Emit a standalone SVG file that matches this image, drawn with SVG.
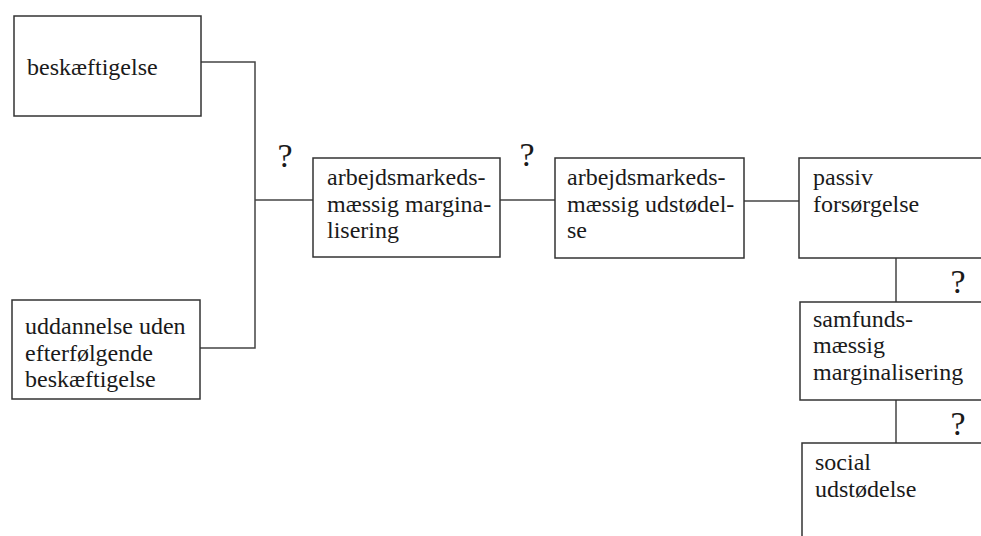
<svg xmlns="http://www.w3.org/2000/svg" width="981" height="536" viewBox="0 0 981 536">
<style>
.box{fill:#fff;stroke:#333;stroke-width:1.5}
.ln{fill:none;stroke:#444;stroke-width:1.5}
text{font-size:24px;fill:#1a1a1a}
.q{font-size:34px}
</style>
<rect width="981" height="536" fill="#fff"/>
<g font-family="Liberation Serif, Tinos, DejaVu Serif, serif">
<g id="connectors">
<polyline class="ln" points="201,62 255,62 255,348 200,348"/>
<line class="ln" x1="255" y1="200" x2="313" y2="200"/>
<line class="ln" x1="500" y1="200" x2="555" y2="200"/>
<line class="ln" x1="744" y1="201" x2="799" y2="201"/>
<line class="ln" x1="896" y1="258" x2="896" y2="302"/>
<line class="ln" x1="896" y1="400" x2="896" y2="443"/>
<text class="q" x="285" y="167" text-anchor="middle">?</text>
<text class="q" x="527" y="166" text-anchor="middle">?</text>
<text class="q" x="958" y="293" text-anchor="middle">?</text>
<text class="q" x="958" y="435" text-anchor="middle">?</text>
</g>
<g id="n1"><rect class="box" x="14" y="16" width="187" height="100"/><text x="27" y="75">beskæftigelse</text></g>
<g id="n2"><rect class="box" x="12" y="300" width="188" height="99"/><text x="25" y="334">uddannelse uden</text><text x="25" y="361">efterfølgende</text><text x="25" y="387">beskæftigelse</text></g>
<g id="n3"><rect class="box" x="313" y="158" width="187" height="99"/><text x="327" y="185">arbejdsmarkeds-</text><text x="327" y="212">mæssig margina-</text><text x="327" y="238">lisering</text></g>
<g id="n4"><rect class="box" x="555" y="158" width="189" height="100"/><text x="567" y="185">arbejdsmarkeds-</text><text x="567" y="212">mæssig udstødel-</text><text x="567" y="238">se</text></g>
<g id="n5"><rect class="box" x="799" y="158" width="200" height="100"/><text x="813" y="185">passiv</text><text x="813" y="212">forsørgelse</text></g>
<g id="n6"><rect class="box" x="800" y="302" width="200" height="98"/><text x="813" y="327">samfunds-</text><text x="813" y="353">mæssig</text><text x="813" y="380">marginalisering</text></g>
<g id="n7"><rect class="box" x="802" y="443" width="200" height="110"/><text x="815" y="470">social</text><text x="815" y="497">udstødelse</text></g>
</g>
</svg>
